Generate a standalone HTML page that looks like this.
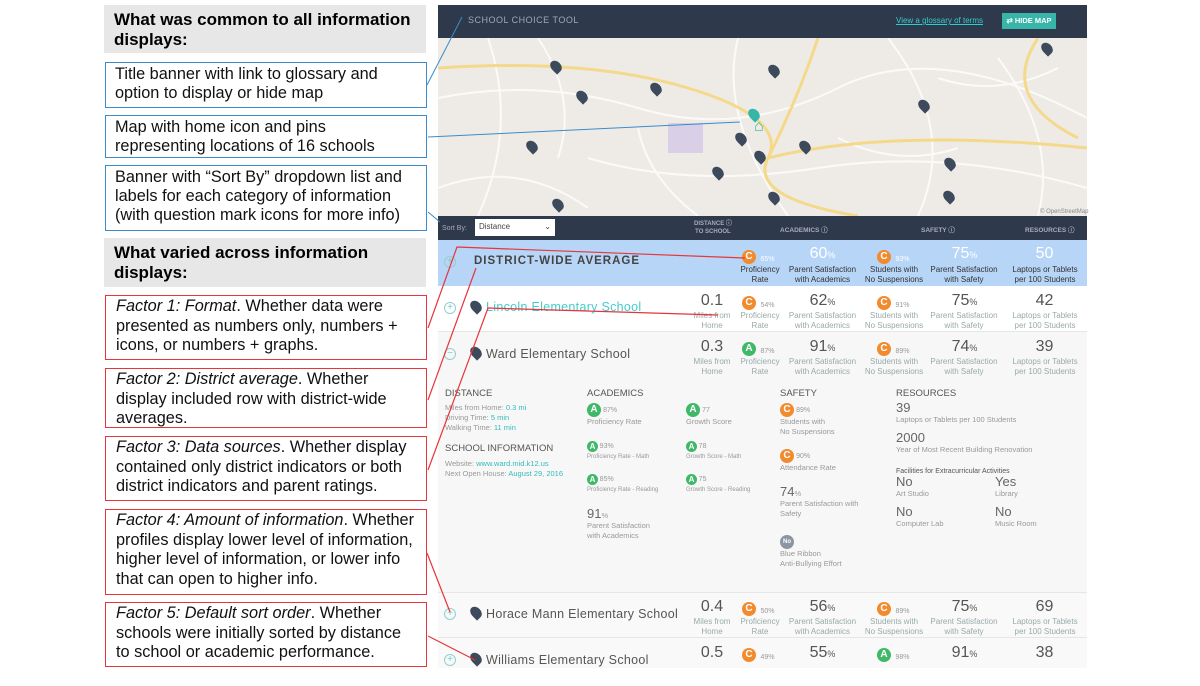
<!DOCTYPE html>
<html><head><meta charset="utf-8"><style>
*{margin:0;padding:0;box-sizing:border-box}
body{width:1200px;height:686px;background:#fff;position:relative;overflow:hidden;font-family:"Liberation Sans",sans-serif}
.a{position:absolute}
.gh{background:#e7e7e7;font-weight:bold;font-size:17px;line-height:20px;padding:5px 10px;color:#000}
.bb{border:1.5px solid #3a8ccc;font-size:16.3px;line-height:19px;padding:2px 9px;color:#111}
.rb{border:1.5px solid #e8343a;font-size:16.3px;line-height:19.5px;padding:1px 10px;color:#111}
.rb i{font-style:italic}
.sm{font-size:8px;color:#9aa;text-align:center;line-height:10px}
.big{font-size:16px;color:#555;text-align:center}
.c{display:inline-block;width:14px;height:14px;border-radius:50%;color:#fff;font-size:10px;text-align:center;line-height:14px;font-weight:bold;vertical-align:middle}
.or{background:#f28a2e}.gr{background:#3fb868}
.pc{font-size:7px;color:#999}
.nm{font-size:12.5px;color:#555;letter-spacing:.3px}
.pin{width:10px;height:13px;background:#3d4a5c;border-radius:50% 50% 50% 0;transform:rotate(-45deg);}
.plus{width:12px;height:12px;border:1px solid #8fd0cc;border-radius:50%;color:#7cc;font-size:10px;line-height:10px;text-align:center}
.dl{font-size:7.5px;color:#999;line-height:10px}
.dh{font-size:9.5px;color:#555;font-weight:normal}
.t{color:#3bb;}
.bn{font-size:13px;color:#666}
</style></head><body>
<div class="a gh" style="left:104px;top:5px;width:322px;height:48px">What was common to all information displays:</div>
<div class="a bb" style="left:105px;top:62px;width:322px;height:46px">Title banner with link to glossary and option to display or hide map</div>
<div class="a bb" style="left:105px;top:115px;width:322px;height:43px">Map with home icon and pins representing locations of 16 schools</div>
<div class="a bb" style="left:105px;top:165px;width:322px;height:66px">Banner with “Sort By” dropdown list and labels for each category of information (with question mark icons for more info)</div>
<div class="a gh" style="left:104px;top:238px;width:322px;height:49px">What varied across information displays:</div>
<div class="a rb" style="left:105px;top:295px;width:322px;height:65px"><i>Factor 1: Format</i>. Whether data were presented as numbers only, numbers + icons, or numbers + graphs.</div>
<div class="a rb" style="left:105px;top:368px;width:322px;height:60px"><i>Factor 2: District average</i>. Whether display included row with district-wide averages.</div>
<div class="a rb" style="left:105px;top:436px;width:322px;height:65px"><i>Factor 3: Data sources</i>. Whether display contained only district indicators or both district indicators and parent ratings.</div>
<div class="a rb" style="left:105px;top:509px;width:322px;height:86px"><i>Factor 4: Amount of information</i>. Whether profiles display lower level of information, higher level of information, or lower info that can open to higher info.</div>
<div class="a rb" style="left:105px;top:602px;width:322px;height:65px"><i>Factor 5: Default sort order</i>. Whether schools were initially sorted by distance to school or academic performance.</div>

<div class="a" style="left:438px;top:5px;width:649px;height:33px;background:#2e3a4b"></div>
<div class="a" style="left:468px;top:15px;font-size:9px;color:#9ab;letter-spacing:.5px">SCHOOL CHOICE TOOL</div>
<div class="a" style="left:896px;top:16px;font-size:8px;color:#3cc;text-decoration:underline">View a glossary of terms</div>
<div class="a" style="left:1002px;top:13px;width:54px;height:16px;background:#36b5a8;color:#fff;font-size:7.5px;font-weight:bold;text-align:center;line-height:16px">⇄ HIDE MAP</div>
<div class="a" style="left:438px;top:38px;width:649px;height:178px;background:#eeebe6;overflow:hidden">
<svg width="649" height="178" style="position:absolute;left:0;top:0">
<g fill="none" stroke="#fbfaf8" stroke-width="2">
<path d="M0 60 Q100 40 200 70 T400 50 T649 80"/><path d="M50 0 Q80 90 40 178"/><path d="M300 0 Q280 80 350 178"/><path d="M450 0 Q520 90 480 178"/><path d="M560 20 Q620 100 600 178"/><path d="M150 120 Q250 150 380 130 T649 150"/><path d="M0 150 Q80 120 150 170"/><path d="M100 0 Q140 60 120 120"/><path d="M200 90 Q210 140 260 178"/><path d="M500 40 Q560 60 620 30"/><path d="M400 100 Q460 130 520 110"/></g>
<g fill="none" stroke="#f5d98a" stroke-width="3"><path d="M0 30 Q150 20 250 50 T330 120 T420 178"/><path d="M330 120 Q450 90 649 110"/><path d="M600 0 Q560 60 640 100"/><path d="M380 0 Q360 60 330 120"/></g>
<rect x="230" y="85" width="35" height="30" fill="#d9d0e8"/>
</svg>
</div>
<div class="a pin" style="left:551px;top:60px"></div><div class="a pin" style="left:577px;top:90px"></div><div class="a pin" style="left:651px;top:82px"></div><div class="a pin" style="left:769px;top:64px"></div><div class="a pin" style="left:527px;top:140px"></div><div class="a pin" style="left:713px;top:166px"></div><div class="a pin" style="left:736px;top:132px"></div><div class="a pin" style="left:755px;top:150px"></div><div class="a pin" style="left:800px;top:140px"></div><div class="a pin" style="left:769px;top:191px"></div><div class="a pin" style="left:553px;top:198px"></div><div class="a pin" style="left:919px;top:99px"></div><div class="a pin" style="left:945px;top:157px"></div><div class="a pin" style="left:944px;top:190px"></div><div class="a pin" style="left:1042px;top:42px"></div>
<div class="a pin" style="left:749px;top:108px;background:#36b5a8"></div>
<div class="a" style="left:754px;top:118px;color:#36b5a8;font-size:16px">⌂</div>
<div class="a" style="left:1040px;top:209px;font-size:6px;color:#888">© OpenStreetMap</div>

<div class="a" style="left:438px;top:216px;width:649px;height:24px;background:#2e3a4b"></div>
<div class="a" style="left:442px;top:225px;font-size:7px;color:#aab">Sort By:</div>
<div class="a" style="left:475px;top:219px;width:80px;height:17px;background:#fff;font-size:8px;color:#444;padding:3px 4px">Distance<span style="float:right">⌄</span></div>
<div class="a" style="left:694px;top:220px;font-size:6px;color:#aab;font-weight:bold;text-align:center;line-height:8px">DISTANCE ⓘ<br>TO SCHOOL</div>
<div class="a" style="left:780px;top:224px;font-size:6.5px;color:#aab;font-weight:bold">ACADEMICS ⓘ</div>
<div class="a" style="left:921px;top:224px;font-size:6.5px;color:#aab;font-weight:bold">SAFETY ⓘ</div>
<div class="a" style="left:1025px;top:224px;font-size:6.5px;color:#aab;font-weight:bold">RESOURCES ⓘ</div>

<div class="a" style="left:438px;top:240px;width:649px;height:46px;background:#b6d5f7"></div>
<div class="a" style="left:438px;top:286px;width:649px;height:46px;background:#fff;border-bottom:1px solid #e6e6e6"></div>
<div class="a" style="left:438px;top:332px;width:649px;height:260px;background:#f7f7f7"></div>
<div class="a" style="left:438px;top:592px;width:649px;height:46px;background:#f9f9f9;border-top:1px solid #e6e6e6;border-bottom:1px solid #e6e6e6"></div>
<div class="a" style="left:438px;top:638px;width:649px;height:30px;background:#f9f9f9"></div>

<div class="a plus" style="left:444px;top:256px;border-color:#9cc">+</div>
<div class="a" style="left:474px;top:255px;font-size:11.5px;font-weight:bold;color:#444;letter-spacing:1px">DISTRICT-WIDE AVERAGE</div>

<div class="a plus" style="left:444px;top:302px">+</div><div class="a pin" style="left:471px;top:300px"></div><div class="a nm" style="left:486px;top:300px;color:#4cc">Lincoln Elementary School</div>
<div class="a plus" style="left:444px;top:348px">−</div><div class="a pin" style="left:471px;top:346px"></div><div class="a nm" style="left:486px;top:347px">Ward Elementary School</div>
<div class="a plus" style="left:444px;top:608px">+</div><div class="a pin" style="left:471px;top:606px"></div><div class="a nm" style="left:486px;top:607px">Horace Mann Elementary School</div>
<div class="a plus" style="left:444px;top:654px">+</div><div class="a pin" style="left:471px;top:652px"></div><div class="a nm" style="left:486px;top:653px">Williams Elementary School</div>

<div class="a" style="left:742px;top:248px"><span class="c or">C</span> <span class="pc" style="color:#fff">65%</span></div>
<div class="a sm" style="left:735px;top:265px;width:50px;color:#333">Proficiency<br>Rate</div>
<div class="a big" style="left:790px;top:245px;width:65px;color:#fff">60<small style="font-size:9px">%</small></div>
<div class="a sm" style="left:785px;top:265px;width:75px;color:#333">Parent Satisfaction<br>with Academics</div>
<div class="a" style="left:877px;top:248px"><span class="c or">C</span> <span class="pc" style="color:#fff">93%</span></div>
<div class="a sm" style="left:860px;top:265px;width:68px;color:#333">Students with<br>No Suspensions</div>
<div class="a big" style="left:932px;top:245px;width:65px;color:#fff">75<small style="font-size:9px">%</small></div>
<div class="a sm" style="left:928px;top:265px;width:72px;color:#333">Parent Satisfaction<br>with Safety</div>
<div class="a big" style="left:1012px;top:245px;width:65px;color:#fff">50</div>
<div class="a sm" style="left:1008px;top:265px;width:74px;color:#333">Laptops or Tablets<br>per 100 Students</div>

<div class="a big" style="left:694px;top:292px;width:36px">0.1</div><div class="a sm" style="left:692px;top:311px;width:40px">Miles from<br>Home</div>
<div class="a" style="left:742px;top:294px"><span class="c or">C</span> <span class="pc">54%</span></div><div class="a sm" style="left:735px;top:311px;width:50px">Proficiency<br>Rate</div>
<div class="a big" style="left:790px;top:292px;width:65px">62<small style="font-size:9px">%</small></div><div class="a sm" style="left:785px;top:311px;width:75px">Parent Satisfaction<br>with Academics</div>
<div class="a" style="left:877px;top:294px"><span class="c or">C</span> <span class="pc">91%</span></div><div class="a sm" style="left:860px;top:311px;width:68px">Students with<br>No Suspensions</div>
<div class="a big" style="left:932px;top:292px;width:65px">75<small style="font-size:9px">%</small></div><div class="a sm" style="left:928px;top:311px;width:72px">Parent Satisfaction<br>with Safety</div>
<div class="a big" style="left:1012px;top:292px;width:65px">42</div><div class="a sm" style="left:1008px;top:311px;width:74px">Laptops or Tablets<br>per 100 Students</div>

<div class="a big" style="left:694px;top:338px;width:36px">0.3</div><div class="a sm" style="left:692px;top:357px;width:40px">Miles from<br>Home</div>
<div class="a" style="left:742px;top:340px"><span class="c gr">A</span> <span class="pc">87%</span></div><div class="a sm" style="left:735px;top:357px;width:50px">Proficiency<br>Rate</div>
<div class="a big" style="left:790px;top:338px;width:65px">91<small style="font-size:9px">%</small></div><div class="a sm" style="left:785px;top:357px;width:75px">Parent Satisfaction<br>with Academics</div>
<div class="a" style="left:877px;top:340px"><span class="c or">C</span> <span class="pc">89%</span></div><div class="a sm" style="left:860px;top:357px;width:68px">Students with<br>No Suspensions</div>
<div class="a big" style="left:932px;top:338px;width:65px">74<small style="font-size:9px">%</small></div><div class="a sm" style="left:928px;top:357px;width:72px">Parent Satisfaction<br>with Safety</div>
<div class="a big" style="left:1012px;top:338px;width:65px">39</div><div class="a sm" style="left:1008px;top:357px;width:74px">Laptops or Tablets<br>per 100 Students</div>

<div class="a big" style="left:694px;top:598px;width:36px">0.4</div><div class="a sm" style="left:692px;top:617px;width:40px">Miles from<br>Home</div>
<div class="a" style="left:742px;top:600px"><span class="c or">C</span> <span class="pc">50%</span></div><div class="a sm" style="left:735px;top:617px;width:50px">Proficiency<br>Rate</div>
<div class="a big" style="left:790px;top:598px;width:65px">56<small style="font-size:9px">%</small></div><div class="a sm" style="left:785px;top:617px;width:75px">Parent Satisfaction<br>with Academics</div>
<div class="a" style="left:877px;top:600px"><span class="c or">C</span> <span class="pc">89%</span></div><div class="a sm" style="left:860px;top:617px;width:68px">Students with<br>No Suspensions</div>
<div class="a big" style="left:932px;top:598px;width:65px">75<small style="font-size:9px">%</small></div><div class="a sm" style="left:928px;top:617px;width:72px">Parent Satisfaction<br>with Safety</div>
<div class="a big" style="left:1012px;top:598px;width:65px">69</div><div class="a sm" style="left:1008px;top:617px;width:74px">Laptops or Tablets<br>per 100 Students</div>

<div class="a big" style="left:694px;top:644px;width:36px">0.5</div>
<div class="a" style="left:742px;top:646px"><span class="c or">C</span> <span class="pc">49%</span></div>
<div class="a big" style="left:790px;top:644px;width:65px">55<small style="font-size:9px">%</small></div>
<div class="a" style="left:877px;top:646px"><span class="c gr">A</span> <span class="pc">98%</span></div>
<div class="a big" style="left:932px;top:644px;width:65px">91<small style="font-size:9px">%</small></div>
<div class="a big" style="left:1012px;top:644px;width:65px">38</div>

<div class="a dh" style="left:445px;top:388px">DISTANCE</div>
<div class="a dl" style="left:445px;top:403px">Miles from Home: <span class="t">0.3 mi</span><br>Driving Time: <span class="t">5 min</span><br>Walking Time: <span class="t">11 min</span></div>
<div class="a dh" style="left:445px;top:443px">SCHOOL INFORMATION</div>
<div class="a dl" style="left:445px;top:459px">Website: <span class="t">www.ward.mid.k12.us</span><br>Next Open House: <span class="t">August 29, 2016</span></div>
<div class="a dh" style="left:587px;top:388px">ACADEMICS</div>
<div class="a dl" style="left:587px;top:403px"><span class="c gr">A</span> <span class="pc">87%</span><br>Proficiency Rate</div>
<div class="a dl" style="left:686px;top:403px"><span class="c gr">A</span> <span class="pc">77</span><br>Growth Score</div>
<div class="a dl" style="left:587px;top:441px;font-size:6px"><span class="c gr" style="width:11px;height:11px;line-height:11px;font-size:8px">A</span> <span class="pc">93%</span><br>Proficiency Rate - Math</div>
<div class="a dl" style="left:686px;top:441px;font-size:6px"><span class="c gr" style="width:11px;height:11px;line-height:11px;font-size:8px">A</span> <span class="pc">78</span><br>Growth Score - Math</div>
<div class="a dl" style="left:587px;top:474px;font-size:6px"><span class="c gr" style="width:11px;height:11px;line-height:11px;font-size:8px">A</span> <span class="pc">85%</span><br>Proficiency Rate - Reading</div>
<div class="a dl" style="left:686px;top:474px;font-size:6px"><span class="c gr" style="width:11px;height:11px;line-height:11px;font-size:8px">A</span> <span class="pc">75</span><br>Growth Score - Reading</div>
<div class="a dl" style="left:587px;top:509px"><span class="bn">91</span>%<br>Parent Satisfaction<br>with Academics</div>
<div class="a dh" style="left:780px;top:388px">SAFETY</div>
<div class="a dl" style="left:780px;top:403px"><span class="c or">C</span> <span class="pc">89%</span><br>Students with<br>No Suspensions</div>
<div class="a dl" style="left:780px;top:449px"><span class="c or">C</span> <span class="pc">90%</span><br>Attendance Rate</div>
<div class="a dl" style="left:780px;top:487px"><span class="bn">74</span>%<br>Parent Satisfaction with<br>Safety</div>
<div class="a dl" style="left:780px;top:535px"><span class="c" style="background:#8c96a3;font-size:6px">No</span><br>Blue Ribbon<br>Anti-Bullying Effort</div>
<div class="a dh" style="left:896px;top:388px">RESOURCES</div>
<div class="a dl" style="left:896px;top:403px"><span class="bn">39</span><br>Laptops or Tablets per 100 Students</div>
<div class="a dl" style="left:896px;top:433px"><span class="bn">2000</span><br>Year of Most Recent Building Renovation</div>
<div class="a dl" style="left:896px;top:467px;color:#555;font-size:7px">Facilities for Extracurricular Activities</div>
<div class="a dl" style="left:896px;top:477px"><span class="bn">No</span><br>Art Studio</div>
<div class="a dl" style="left:995px;top:477px"><span class="bn">Yes</span><br>Library</div>
<div class="a dl" style="left:896px;top:507px"><span class="bn">No</span><br>Computer Lab</div>
<div class="a dl" style="left:995px;top:507px"><span class="bn">No</span><br>Music Room</div>

<svg class="a" style="left:0;top:0" width="1200" height="686">
<g stroke="#3a8ccc" stroke-width="1" fill="none">
<line x1="427" y1="85" x2="462" y2="17"/><line x1="428" y1="137" x2="740" y2="122"/><line x1="428" y1="212" x2="440" y2="222"/></g>
<g stroke="#e8343a" stroke-width="1.2" fill="none">
<polyline points="428,328 457,247 745,258"/>
<line x1="428" y1="400" x2="476" y2="268"/>
<polyline points="428,470 488,308 718,315"/>
<line x1="427" y1="553" x2="450" y2="612"/>
<line x1="428" y1="636" x2="475" y2="660"/></g>
</svg>
</body></html>
